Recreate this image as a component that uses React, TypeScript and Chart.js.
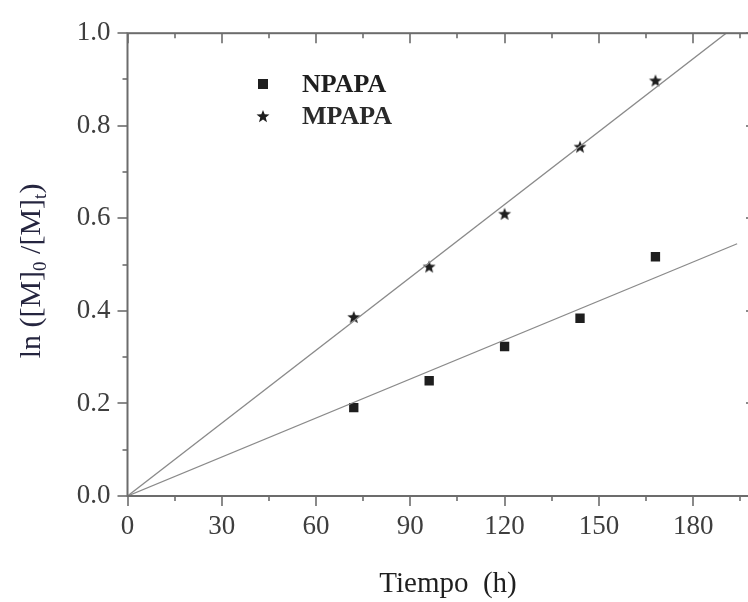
import React, { useEffect, useRef } from 'react';
import { Chart, registerables } from 'chart.js';

Chart.register(...registerables);

// ---- data ----
const times = [72, 96, 120, 144, 168];
const npapa = [0.191, 0.249, 0.323, 0.384, 0.517];
const mpapa = [0.387, 0.496, 0.61, 0.755, 0.898];
const npapaFitX = [0, 194];
const npapaFitY = [0, 0.545];
const mpapaFitX = [0, 190.5];
const mpapaFitY = [0, 1.0];
const xTicks = [0, 30, 60, 90, 120, 150, 180];
const yTicks = [0.0, 0.2, 0.4, 0.6, 0.8, 1.0];
const seriesNames = ['NPAPA', 'MPAPA'];
const xTitle = 'Tiempo  (h)';

const W = 770;
const H = 602;
const SERIF = '"Liberation Serif", "Times New Roman", serif';
const AXIS_COLOR = '#6c6c6c';
const MARK_COLOR = '#1e1e1e';

function makeStar(r: number): HTMLCanvasElement {
  const c = document.createElement('canvas');
  const s = Math.ceil(r * 2 + 2);
  c.width = s;
  c.height = s;
  const g = c.getContext('2d')!;
  const cx = s / 2;
  const cy = s / 2 + r * 0.1;
  g.beginPath();
  for (let i = 0; i < 10; i++) {
    const rr = i % 2 === 0 ? r : r * 0.42;
    const a = -Math.PI / 2 + (i * Math.PI) / 5;
    const px = cx + rr * Math.cos(a);
    const py = cy + rr * Math.sin(a);
    if (i === 0) g.moveTo(px, py);
    else g.lineTo(px, py);
  }
  g.closePath();
  g.fillStyle = MARK_COLOR;
  g.fill();
  return c;
}

function drawSquare(ctx: CanvasRenderingContext2D, x: number, y: number, side: number) {
  ctx.fillStyle = MARK_COLOR;
  ctx.fillRect(x - side / 2, y - side / 2, side, side);
}

export default function App() {
  const ref = useRef<HTMLCanvasElement | null>(null);

  useEffect(() => {
    const canvas = ref.current!;
    const star = makeStar(6.8);

    const framePlugin = {
      id: 'frame',
      afterDraw(chart: any) {
        const { ctx, chartArea: a, scales } = chart;
        const x = scales.x;
        const y = scales.y;
        ctx.save();
        ctx.strokeStyle = AXIS_COLOR;
        ctx.lineWidth = 2;
        ctx.strokeRect(a.left, a.top, a.right - a.left, a.bottom - a.top);
        ctx.lineWidth = 1.6;
        const seg = (x1: number, y1: number, x2: number, y2: number) => {
          ctx.beginPath();
          ctx.moveTo(x1, y1);
          ctx.lineTo(x2, y2);
          ctx.stroke();
        };
        for (let v = 0; v <= 195; v += 15) {
          const px = Math.round(x.getPixelForValue(v));
          const L = v % 30 === 0 ? 10 : 5;
          seg(px, a.bottom, px, a.bottom + L);
          seg(px, a.top, px, a.top + L);
        }
        for (let i = 0; i <= 10; i++) {
          const py = Math.round(y.getPixelForValue(i / 10));
          const L = i % 2 === 0 ? 10 : 5;
          seg(a.left - L, py, a.left, py);
          seg(a.right - L, py, a.right, py);
        }

        // legend
        ctx.fillStyle = '#2a2a2a';
        ctx.font = `bold 26px ${SERIF}`;
        ctx.textBaseline = 'middle';
        ctx.textAlign = 'left';
        drawSquare(ctx, 263, 84, 10);
        ctx.fillText(seriesNames[0], 302, 85);
        ctx.drawImage(star, 263 - star.width / 2, 116 - star.height / 2);
        ctx.fillStyle = '#2a2a2a';
        ctx.fillText(seriesNames[1], 302, 117);

        // x title
        ctx.fillStyle = '#1f1f1f';
        ctx.font = `29px ${SERIF}`;
        ctx.textAlign = 'center';
        ctx.textBaseline = 'alphabetic';
        ctx.fillText(xTitle, 448, 592);

        // y title with subscripts
        ctx.save();
        ctx.translate(40, 271);
        ctx.rotate(-Math.PI / 2);
        ctx.fillStyle = '#25253f';
        ctx.textAlign = 'left';
        const big = `30px ${SERIF}`;
        const small = `19px ${SERIF}`;
        const parts: [string, boolean][] = [
          ['ln ([M]', false],
          ['0', true],
          [' /[M]', false],
          ['t', true],
          [')', false],
        ];
        let total = 0;
        const widths = parts.map(([t, sub]) => {
          ctx.font = sub ? small : big;
          const w = ctx.measureText(t).width;
          total += w;
          return w;
        });
        let cx = -total / 2;
        parts.forEach(([t, sub], i) => {
          ctx.font = sub ? small : big;
          ctx.fillText(t, cx, sub ? 6 : 0);
          cx += widths[i];
        });
        ctx.restore();

        ctx.restore();
      },
    };

    const chart = new Chart(canvas, {
      type: 'scatter',
      data: {
        datasets: [
          {
            type: 'line',
            label: 'NPAPA fit',
            data: npapaFitX.map((v, i) => ({ x: v, y: npapaFitY[i] })),
            borderColor: '#8a8a8a',
            borderWidth: 1.3,
            pointRadius: 0,
            fill: false,
          },
          {
            type: 'line',
            label: 'MPAPA fit',
            data: mpapaFitX.map((v, i) => ({ x: v, y: mpapaFitY[i] })),
            borderColor: '#8a8a8a',
            borderWidth: 1.3,
            pointRadius: 0,
            fill: false,
          },
          {
            label: seriesNames[0],
            data: times.map((t, i) => ({ x: t, y: npapa[i] })),
            pointStyle: 'rect',
            pointRadius: 6.6,
            backgroundColor: MARK_COLOR,
            borderColor: MARK_COLOR,
            borderWidth: 0,
          },
          {
            label: seriesNames[1],
            data: times.map((t, i) => ({ x: t, y: mpapa[i] })),
            pointStyle: star as any,
            pointRadius: 7,
            backgroundColor: MARK_COLOR,
            borderColor: MARK_COLOR,
          },
        ],
      },
      options: {
        responsive: false,
        animation: false,
        layout: { padding: { top: 27, right: W - 756, left: 0, bottom: 0 } },
        plugins: {
          legend: { display: false },
          tooltip: { enabled: false },
        },
        scales: {
          x: {
            type: 'linear',
            min: 0,
            max: 200,
            grid: { display: false, drawTicks: false },
            border: { display: false },
            afterBuildTicks: (s: any) => {
              s.ticks = xTicks.map((v) => ({ value: v }));
            },
            afterFit: (s: any) => {
              s.height = H - 496;
            },
            ticks: {
              color: '#3e3e3e',
              font: { family: SERIF, size: 27 },
              padding: 15,
              maxRotation: 0,
              autoSkip: false,
            },
          },
          y: {
            type: 'linear',
            min: 0,
            max: 1,
            grid: { display: false, drawTicks: false },
            border: { display: false },
            afterBuildTicks: (s: any) => {
              s.ticks = yTicks.map((v) => ({ value: v }));
            },
            afterFit: (s: any) => {
              s.width = 127.5;
            },
            ticks: {
              color: '#3e3e3e',
              font: { family: SERIF, size: 27 },
              padding: 17,
              autoSkip: false,
              callback: (v: any) => Number(v).toFixed(1),
            },
          },
        },
      },
      plugins: [framePlugin],
    } as any);

    return () => chart.destroy();
  }, []);

  return (
    <div
      style={{
        position: 'fixed',
        left: 0,
        top: 0,
        width: 748,
        height: 602,
        overflow: 'hidden',
        background: '#fff',
      }}
    >
      <canvas ref={ref} width={W} height={H} style={{ display: 'block', width: W, height: H }} />
    </div>
  );
}
